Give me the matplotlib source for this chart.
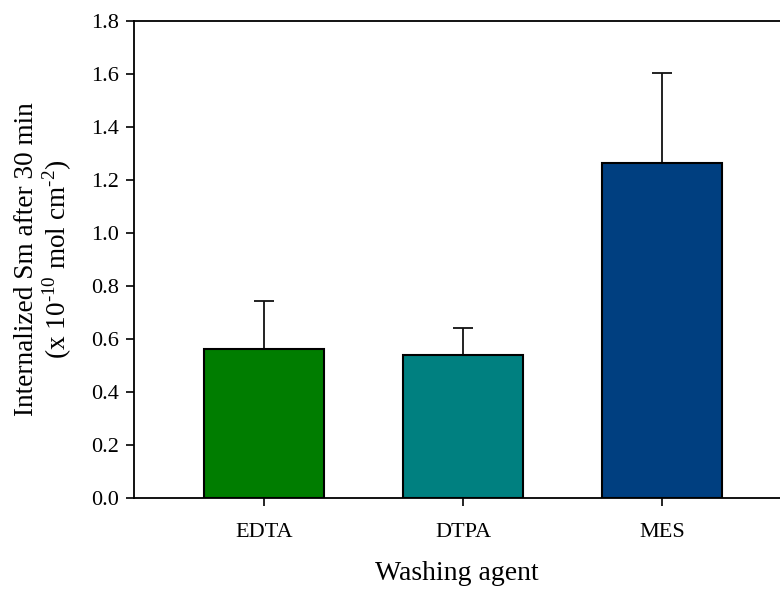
import matplotlib
matplotlib.use("Agg")
import matplotlib.pyplot as plt

categories = ["EDTA", "DTPA", "MES"]
values = [0.561, 0.538, 1.263]
errors = [0.181, 0.102, 0.341]
colors = ["#007D00", "#008080", "#003F80"]
yticks = [0.0, 0.2, 0.4, 0.6, 0.8, 1.0, 1.2, 1.4, 1.6, 1.8]

plt.rcParams['font.family'] = ['Liberation Serif', 'DejaVu Serif']
plt.rcParams['mathtext.fontset'] = 'custom'
plt.rcParams['mathtext.rm'] = 'Liberation Serif'

W, H = 780, 589
fig = plt.figure(figsize=(W/100, H/100), dpi=100)
left, right, top, bottom = 134, 780, 21, 497.7
ax = fig.add_axes([left/W, 1 - bottom/H, (right-left)/W, (bottom-top)/H])

x = list(range(len(categories)))
ax.bar(x, values, width=0.6, color=colors, edgecolor="black", linewidth=1.5, zorder=2)
ax.errorbar(x, values, yerr=[[0]*3, errors], fmt="none", ecolor="#111111",
            elinewidth=1.3, capsize=7, capthick=1.3, zorder=1)

ax.set_xlim(-0.653, 2.593)
ax.set_ylim(0, 1.8)
ax.set_yticks(yticks)
ax.set_yticklabels([f"{t:.1f}" for t in yticks])
ax.set_xticks(x)
ax.set_xticklabels(categories)
ax.spines['right'].set_visible(False)
for s in ['left', 'bottom', 'top']:
    ax.spines[s].set_linewidth(1.3)
ax.tick_params(axis='both', direction='out', length=6, width=1.2, labelsize=16)
ax.tick_params(axis='x', pad=12)
ax.tick_params(axis='y', pad=5)

ax.set_xlabel("Washing agent", fontsize=20, labelpad=14)
ax.set_ylabel("Internalized Sm after 30 min\n(x 10$^{\\text{-10}}$ mol cm$^{\\text{-2}}$)", fontsize=19.6,
              linespacing=1.05, labelpad=12)

fig.savefig("out.png", dpi=100)
